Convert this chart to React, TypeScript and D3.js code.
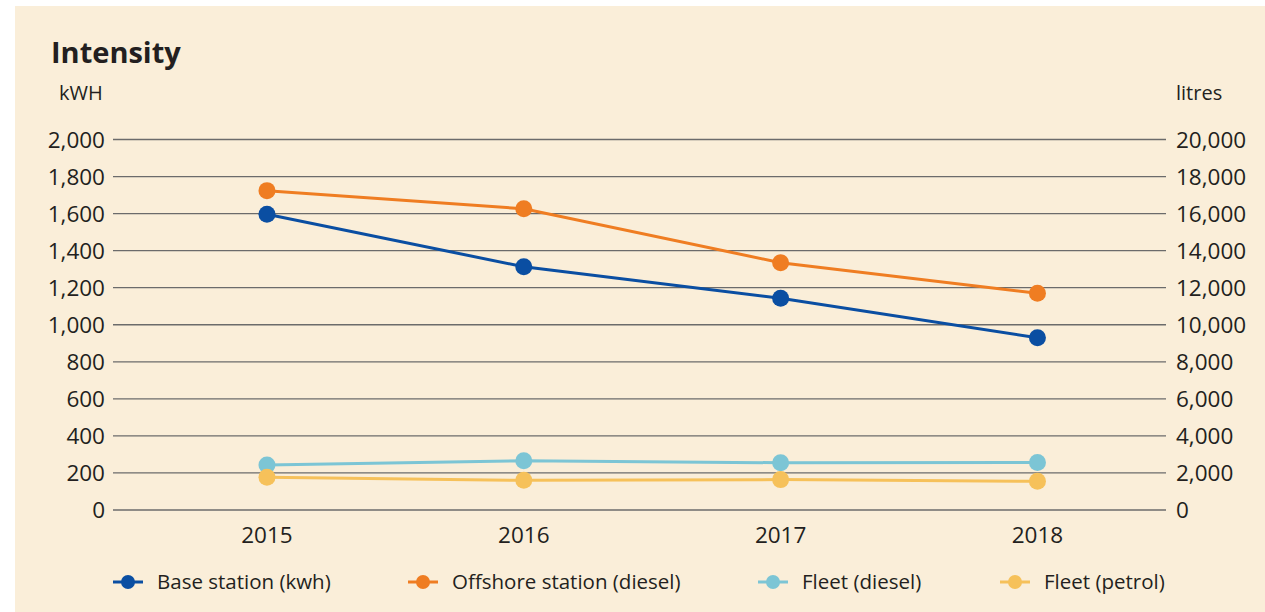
import * as d3 from 'd3';

const years = ['2015', '2016', '2017', '2018'];
const baseStation = [1596, 1313, 1143, 930];
const offshoreStation = [17240, 16260, 13350, 11700];
const fleetDiesel = [2430, 2660, 2550, 2560];
const fleetPetrol = [1770, 1600, 1640, 1550];
const leftTicks = [0, 200, 400, 600, 800, 1000, 1200, 1400, 1600, 1800, 2000];
const rightTicks = [0, 2000, 4000, 6000, 8000, 10000, 12000, 14000, 16000, 18000, 20000];

const series = [
  { name: 'Base station (kwh)', values: baseStation, axis: 'left', color: '#0a4ea2' },
  { name: 'Offshore station (diesel)', values: offshoreStation, axis: 'right', color: '#ef7d22' },
  { name: 'Fleet (diesel)', values: fleetDiesel, axis: 'right', color: '#7cc5d5' },
  { name: 'Fleet (petrol)', values: fleetPetrol, axis: 'right', color: '#f6c15a' },
];

const W = 1265;
const H = 612;
const left = 113;
const right = 1166;
const top = 139.5;
const bottom = 510;
const font = '"Open Sans", "Noto Sans", sans-serif';
const textColor = '#231f20';
const legendX = [113, 408, 758, 1000];

const App = () => {
  const x = d3.scalePoint<string>().domain(years).range([left, right]).padding(0.55).align(0.545);
  const yLeft = d3.scaleLinear().domain([0, 2000]).range([bottom, top]);
  const yRight = d3.scaleLinear().domain([0, 20000]).range([bottom, top]);
  const fmt = d3.format(',');

  return (
    <svg width={W} height={H} style={{ position: 'absolute', left: 0, top: 0 }}>
      <rect x={0} y={0} width={W} height={H} fill="#ffffff" />
      <rect x={15} y={6} width={W - 15} height={H - 6} fill="#faeed9" />
      <text x={51} y={63} fontFamily={font} fontWeight={700} fontSize={29} fill={textColor}>
        Intensity
      </text>
      <text x={59} y={100} fontFamily={font} fontSize={20} fill={textColor}>
        kWH
      </text>
      <text x={1176} y={100} fontFamily={font} fontSize={20} fill={textColor}>
        litres
      </text>

      {leftTicks.map((t) => (
        <g key={'l' + t}>
          <line x1={left} x2={right} y1={yLeft(t)} y2={yLeft(t)} stroke="#6b6b6b" strokeWidth={1.3} />
          <text x={105} y={yLeft(t)} dy="0.36em" textAnchor="end" fontFamily={font} fontSize={22.5} fill={textColor}>
            {fmt(t)}
          </text>
        </g>
      ))}
      {rightTicks.map((t) => (
        <text key={'r' + t} x={1176} y={yRight(t)} dy="0.36em" fontFamily={font} fontSize={22.5} fill={textColor}>
          {fmt(t)}
        </text>
      ))}
      {years.map((yr) => (
        <text key={yr} x={x(yr)} y={543} textAnchor="middle" fontFamily={font} fontSize={22.5} fill={textColor}>
          {yr}
        </text>
      ))}

      {series.map((s) => {
        const ys = s.axis === 'left' ? yLeft : yRight;
        const line = d3
          .line<number>()
          .x((_, i) => x(years[i]) || 0)
          .y((d) => ys(d));
        return (
          <g key={s.name}>
            <path d={line(s.values) || ''} fill="none" stroke={s.color} strokeWidth={3} />
            {s.values.map((v, i) => (
              <circle key={i} cx={x(years[i])} cy={ys(v)} r={8.5} fill={s.color} />
            ))}
          </g>
        );
      })}

      {series.map((s, i) => (
        <g key={'lg' + s.name} transform={`translate(${legendX[i]},582)`}>
          <line x1={0} x2={30} y1={0} y2={0} stroke={s.color} strokeWidth={3} />
          <circle cx={15} cy={0} r={7} fill={s.color} />
          <text x={44} y={0} dy="0.36em" fontFamily={font} fontSize={20.5} fill={textColor}>
            {s.name}
          </text>
        </g>
      ))}
    </svg>
  );
};

export default App;
